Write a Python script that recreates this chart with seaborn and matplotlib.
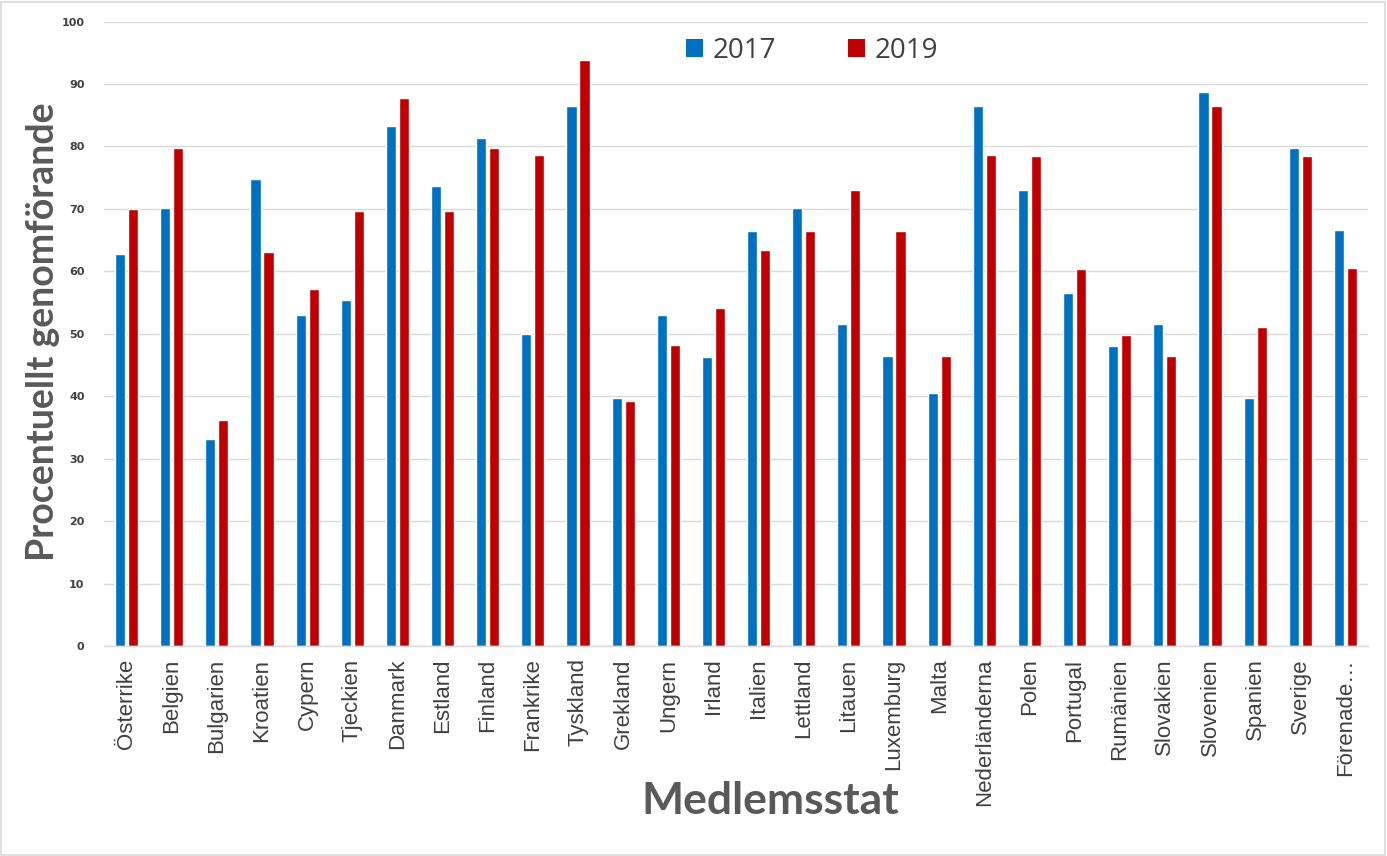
import matplotlib
matplotlib.use("Agg")
import matplotlib.pyplot as plt
import seaborn as sns
import pandas as pd
import numpy as np
from matplotlib.patches import Rectangle, Patch
from matplotlib.ticker import FixedLocator

countries = ["Österrike", "Belgien", "Bulgarien", "Kroatien", "Cypern", "Tjeckien",
             "Danmark", "Estland", "Finland", "Frankrike", "Tyskland", "Grekland",
             "Ungern", "Irland", "Italien", "Lettland", "Litauen", "Luxemburg",
             "Malta", "Nederländerna", "Polen", "Portugal", "Rumänien", "Slovakien",
             "Slovenien", "Spanien", "Sverige", "Förenade…"]
values_2017 = [62.8, 70.1, 33.1, 74.8, 53.0, 55.4, 83.3, 73.7, 81.3, 49.9, 86.5, 39.7,
               53.0, 46.3, 66.5, 70.1, 51.6, 46.4, 40.5, 86.5, 73.0, 56.5, 48.0, 51.6,
               88.7, 39.7, 79.7, 66.6]
values_2019 = [69.9, 79.8, 36.2, 63.1, 57.2, 69.7, 87.8, 69.7, 79.8, 78.6, 93.8, 39.2,
               48.2, 54.1, 63.4, 66.5, 73.0, 66.5, 46.4, 78.6, 78.5, 60.4, 49.8, 46.4,
               86.5, 51.1, 78.5, 60.5]
years = ["2017", "2019"]
colors = ["#0070C0", "#C00000"]

df = pd.DataFrame({
    "Medlemsstat": countries * 2,
    "År": [years[0]] * len(countries) + [years[1]] * len(countries),
    "Värde": values_2017 + values_2019,
})

sns.set_theme(style="white")
plt.rcParams["font.family"] = ["Liberation Sans", "DejaVu Sans"]

fig = plt.figure(figsize=(13.87, 8.56), dpi=100)
ax = fig.add_axes([104 / 1387, 1 - 646 / 856, 1264 / 1387, (646 - 21.5) / 856])

sns.barplot(data=df, x="Medlemsstat", y="Värde", hue="År", order=countries,
            hue_order=years, palette=colors, width=0.577, gap=0.23,
            saturation=1, errorbar=None, ax=ax, legend=False)

ax.set_ylim(0, 100)
ax.set_xlim(-0.5, len(countries) - 0.5)
ax.set_yticks(np.arange(0, 101, 10))
ax.yaxis.grid(True, color="#D9D9D9", linewidth=1)
ax.set_axisbelow(True)
for s in ["left", "right", "top"]:
    ax.spines[s].set_visible(False)
ax.spines["bottom"].set_color("#D9D9D9")
ax.spines["bottom"].set_linewidth(1)

ax.tick_params(axis="y", length=0, pad=14, labelsize=8, labelcolor="#404040")
for lab in ax.get_yticklabels():
    lab.set_fontweight("bold")
    lab.set_family(["DejaVu Sans"])

ax.tick_params(axis="x", which="major", length=0, pad=9, labelsize=16,
               labelcolor="#404040", rotation=90)
ax.xaxis.set_minor_locator(FixedLocator(np.arange(-0.5, len(countries), 1.0)))
ax.tick_params(axis="x", which="minor", length=6, width=1, color="#D9D9D9")

ax.set_xlabel("")
ax.set_ylabel("")
fig.text(770 / 1387, 1 - 801 / 856, "Medlemsstat", fontsize=32, fontweight="bold",
         color="#595959", family=["Lato", "DejaVu Sans"], ha="center", va="center")
fig.text(43 / 1387, 1 - 332 / 856, "Procentuellt genomförande", fontsize=27,
         fontweight="bold", color="#595959", family=["Lato", "DejaVu Sans"],
         rotation=90, ha="center", va="center")

handles = [Patch(facecolor=c, edgecolor="none") for c in colors]
ax.legend(handles, years, ncol=2, loc="center", bbox_to_anchor=(0.56, 0.953),
          frameon=False, prop={"family": "Open Sans", "size": 20},
          labelcolor="#404040", handlelength=0.6, handleheight=0.6,
          handletextpad=0.35, columnspacing=2.6)

fig.patches.append(Rectangle((1 / 1387, 1 / 856), 1 - 3 / 1387, 1 - 3 / 856,
                             transform=fig.transFigure, fill=False,
                             edgecolor="#D9D9D9", linewidth=1.2))

fig.savefig("out.png", dpi=100, facecolor="white")
